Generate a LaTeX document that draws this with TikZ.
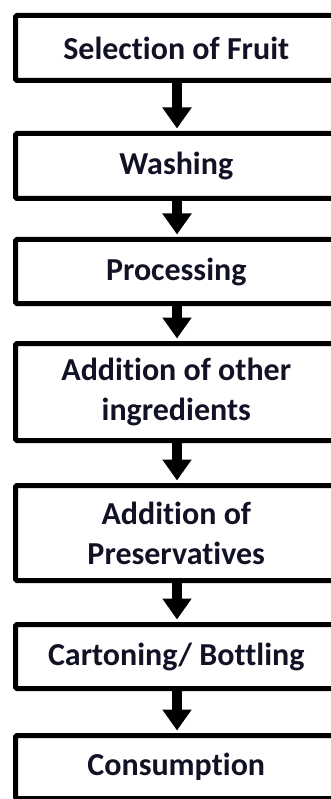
\documentclass[tikz,border=0pt]{standalone}
\usepackage{fontspec}
\setmainfont{Carlito}[Ligatures={NoCommon}]
\usetikzlibrary{arrows.meta}
\definecolor{txt}{RGB}{18,18,38}
\tikzset{
  stepbox/.style={draw=black, line width=5pt, rounded corners=1.5pt, minimum width=321.5pt,
    inner sep=0pt, align=center, text=txt, font=\bfseries\fontsize{32}{40}\selectfont},
  flowarrow/.style={line width=10pt, -{Triangle[width=28pt,length=21pt]}, black}
}
\begin{document}
\begin{tikzpicture}[x=1pt,y=-1pt]
\useasboundingbox (0,0) rectangle (331,799);
\clip (0,0) rectangle (331,799);
\node[stepbox, minimum height=65pt] (b1) at (176.25,48) {Selection of Fruit};
\node[stepbox, minimum height=65pt] (b2) at (176.25,166) {Washing};
\node[stepbox, minimum height=64pt] (b3) at (176.25,271.5) {Processing};
\node[stepbox, minimum height=97pt] (b4) at (176.25,392) {Addition of other\\ingredients};
\node[stepbox, minimum height=95pt] (b5) at (176.25,533) {Addition of\\Preservatives};
\node[stepbox, minimum height=64pt] (b6) at (176.25,656.5) {Cartoning/ Bottling};
\node[stepbox, minimum height=63pt] (b7) at (176.25,767) {Consumption};
\foreach \a/\b in {b1/b2,b2/b3,b3/b4,b4/b5,b5/b6,b6/b7}{
  \draw[flowarrow] ([xshift=0.75pt]\a.south) -- ([xshift=0.75pt,yshift=2.5pt]\b.north);
}
\end{tikzpicture}
\end{document}
